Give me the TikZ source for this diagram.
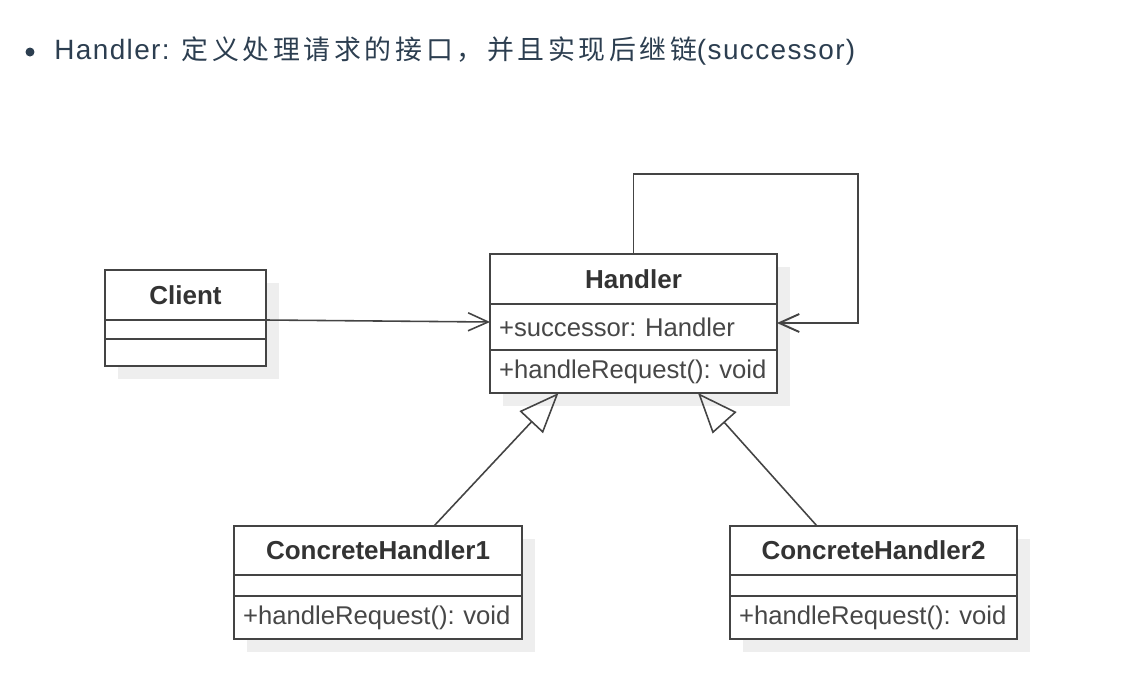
\documentclass[tikz,border=0pt]{standalone}
\usepackage{fontspec}
\setmainfont{Liberation Sans}
\newfontfamily\titlefont{Liberation Sans}[LetterSpace=5]
\newfontfamily\cjkfont{Noto Sans CJK SC}[LetterSpace=13.5]
\usetikzlibrary{positioning,arrows.meta,backgrounds}

\definecolor{umlline}{HTML}{444444}
\definecolor{umltext}{HTML}{333333}
\definecolor{shadowgray}{HTML}{EEEEEE}
\definecolor{titleblue}{HTML}{2C3E50}

\tikzset{
    classhead/.style={draw=umlline, fill=white, line width=1.1pt, outer sep=0pt, inner sep=0pt,
        font=\bfseries\fontsize{14.8}{17}\selectfont, text=umltext},
    classpart/.style={draw=umlline, fill=white, line width=1.1pt, outer sep=0pt, inner xsep=0.18cm,
        inner ysep=0pt, align=left, font=\fontsize{14.6}{17}\selectfont, text=black!72,
        execute at begin node=\frenchspacing},
    assoc/.style={draw=umlline, line width=0.9pt, -{Straight Barb[length=0.4cm,width=0.36cm]}},
    inherit/.style={draw=umlline, line width=0.9pt, -{Triangle[open,length=0.8cm,width=0.64cm]}},
}

\begin{document}
\begin{tikzpicture}[x=0.02cm, y=-0.02cm]
    \useasboundingbox (0,0) rectangle (1130,698);

    % Bullet line above the diagram
    \fill[titleblue] (30,52) circle (0.09cm);
    \node[anchor=base west, inner sep=0, text=titleblue, font=\fontsize{15.9}{19}\selectfont] (title) at (54,59)
        {{\titlefont Handler: }{\cjkfont\fontsize{15.3}{19}\selectfont 定义处理请求的接口，并且实现后继链}{\titlefont (successor)}};

    % Client
    \node[classhead, minimum width=3.22cm, minimum height=1.0cm] (client) at (185.5,295) {Client};
    \node[classpart, text width=2.86cm, minimum height=0.38cm, below=0pt of client] (client-attr) {};
    \node[classpart, text width=2.86cm, minimum height=0.54cm, below=0pt of client-attr] (client-ops) {};

    % Handler
    \node[classhead, minimum width=5.74cm, minimum height=1.0cm] (handler) at (633.5,279) {Handler};
    \node[classpart, text width=5.38cm, minimum height=0.92cm, below=0pt of handler] (handler-attr) {+successor: Handler};
    \node[classpart, text width=5.38cm, minimum height=0.86cm, below=0pt of handler-attr] (handler-ops) {+handleRequest(): void};

    % ConcreteHandler1
    \node[classhead, minimum width=5.76cm, minimum height=0.98cm] (ch1) at (378,550.5) {ConcreteHandler1};
    \node[classpart, text width=5.4cm, minimum height=0.42cm, below=0pt of ch1] (ch1-attr) {};
    \node[classpart, text width=5.4cm, minimum height=0.86cm, below=0pt of ch1-attr] (ch1-ops) {+handleRequest(): void};

    % ConcreteHandler2
    \node[classhead, minimum width=5.74cm, minimum height=0.98cm] (ch2) at (873.5,550.5) {ConcreteHandler2};
    \node[classpart, text width=5.38cm, minimum height=0.42cm, below=0pt of ch2] (ch2-attr) {};
    \node[classpart, text width=5.38cm, minimum height=0.86cm, below=0pt of ch2-attr] (ch2-ops) {+handleRequest(): void};

    % flat shadows behind the classes
    \begin{scope}[on background layer]
        \foreach \c in {client,handler,ch1,ch2} {
            \fill[shadowgray] ([shift={(13,13)}]\c.north west) rectangle ([shift={(13,13)}]\c-ops.south east);
        }
    \end{scope}

    % Associations
    \draw[assoc] (client.south east) -- ([yshift=0.1cm]handler-attr.west);
    \draw[assoc, line width=1.1pt] (handler.north) -- ++(0,-80)
        -| ([xshift=1.62cm,yshift=0.08cm]handler-attr.east) -- ([yshift=0.08cm]handler-attr.east);

    % Generalizations
    \draw[inherit] ([xshift=1.12cm]ch1.north) -- ([xshift=-1.5cm]handler-ops.south);
    \draw[inherit] ([xshift=-1.13cm]ch2.north) -- ([xshift=1.29cm]handler-ops.south);

\end{tikzpicture}
\end{document}
